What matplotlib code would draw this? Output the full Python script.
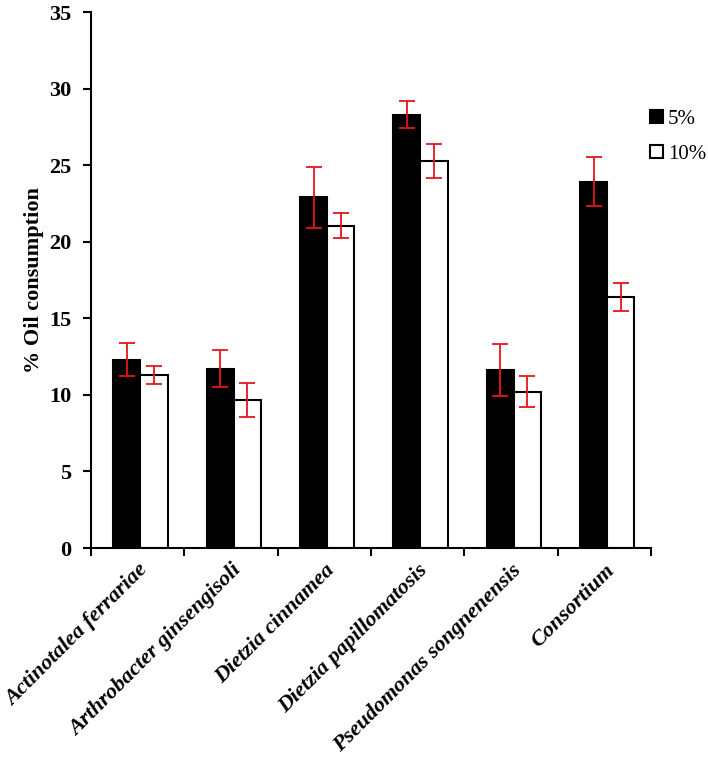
import numpy as np
import matplotlib.pyplot as plt
from matplotlib.patches import Patch

# data
strains = ["Actinotalea ferrariae", "Arthrobacter ginsengisoli", "Dietzia cinnamea",
           "Dietzia papillomatosis", "Pseudomonas songnenensis", "Consortium"]
oil_5 = [12.3, 11.7, 22.9, 28.3, 11.6, 23.9]
err_5 = [1.1, 1.2, 2.0, 0.9, 1.7, 1.6]
oil_10 = [11.3, 9.65, 21.05, 25.25, 10.2, 16.4]
err_10 = [0.6, 1.1, 0.8, 1.1, 1.0, 0.9]

plt.rcParams['font.family'] = ['Liberation Serif', 'DejaVu Serif']

fig = plt.figure(figsize=(7.08, 7.63), dpi=100)
ax = fig.add_axes([91 / 708, 1 - 548 / 763, 560 / 708, 536 / 763])

x = np.arange(len(strains))
w = 0.29
ekw = dict(ecolor='#e8141c', elinewidth=1.3, capsize=5.5, capthick=1.3)
ax.bar(x - w / 2 + 0.03, oil_5, w, color='black', edgecolor='black', linewidth=1.5,
       yerr=err_5, error_kw=ekw)
ax.bar(x + w / 2 + 0.03, oil_10, w, color='white', edgecolor='black', linewidth=1.5,
       yerr=err_10, error_kw=ekw)

ax.set_xlim(-0.5, len(strains) - 0.5)
ax.set_ylim(0, 35)
ax.set_yticks(range(0, 36, 5))
ax.set_xticks(np.arange(-0.5, len(strains), 1.0))
ax.set_xticklabels([])
ax.set_xticks(x, minor=True)
ax.set_xticklabels(strains, minor=True, rotation=45, ha='right', rotation_mode='anchor',
                   fontsize=16, fontweight='bold', fontstyle='italic')
ax.tick_params(axis='x', which='minor', length=0, pad=9)
ax.tick_params(axis='x', which='major', direction='out', length=6, width=1.5)
ax.tick_params(axis='y', direction='out', length=6, width=1.5, labelsize=16, pad=8)
for lab in ax.get_yticklabels():
    lab.set_fontweight('bold')

for s in ['top', 'right']:
    ax.spines[s].set_visible(False)
for s in ['left', 'bottom']:
    ax.spines[s].set_linewidth(1.5)

ax.set_ylabel('% Oil consumption', fontsize=16, fontweight='bold', labelpad=4)

handles = [Patch(facecolor='black', edgecolor='black', linewidth=1.5, label='5%'),
           Patch(facecolor='white', edgecolor='black', linewidth=1.5, label='10%')]
fig.legend(handles=handles, loc='upper left', bbox_to_anchor=(650 / 708, 1 - 110 / 763),
           frameon=False, fontsize=15, handlelength=0.6, handleheight=0.6,
           handletextpad=0.25, labelspacing=0.75, borderpad=0, borderaxespad=0)

fig.savefig('out.png', dpi=100)
